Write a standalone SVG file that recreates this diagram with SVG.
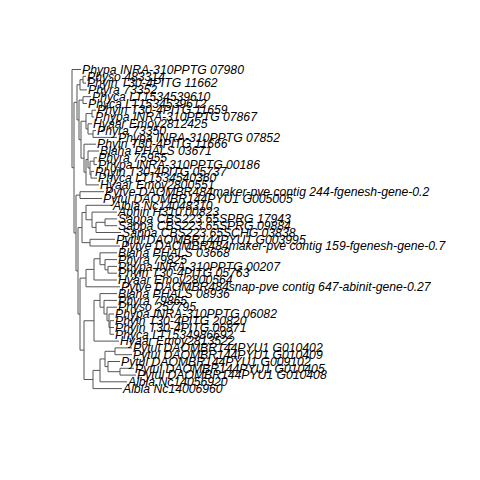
<svg xmlns="http://www.w3.org/2000/svg" width="480" height="480" viewBox="0 0 480 480">
<style>
.e{fill:none;stroke:#555;stroke-width:1}
text{font-family:"Liberation Sans",Arial,sans-serif;font-style:italic;font-size:12.2px;fill:#000}
</style>
<rect width="480" height="480" fill="#fff"/>
<g id="edges" class="e">
<path d="M72 69.5V167.7M72 69.5H81M72 167.7H74"/>
<path d="M74 102.35V233M74 102.35H77M74 233H76"/>
<path d="M77 84.8V119.9M77 84.8H80M77 119.9H79"/>
<path d="M80 79.7V89.9M80 79.7H83M80 89.9H87"/>
<path d="M83 76.3V83.1M83 76.3H86M83 83.1H86"/>
<path d="M79 100.1V139.7M79 100.1H83M79 139.7H81"/>
<path d="M83 96.7V103.5M83 96.7H91M83 103.5H87"/>
<path d="M81 121.25V158.2M81 121.25H86M81 158.2H84"/>
<path d="M86 113.6V128.9M86 113.6H92M86 128.9H88"/>
<path d="M92 110.2V117M92 110.2H96M92 117H94"/>
<path d="M88 123.8V134M88 123.8H92M88 134H93"/>
<path d="M93 130.6V137.4M93 130.6H96M93 137.4H117"/>
<path d="M84 144.2V172.2M84 144.2H96M84 172.2H86"/>
<path d="M86 159.5V184.9M86 159.5H88M86 184.9H99"/>
<path d="M88 151V168M88 151H99M88 168H90"/>
<path d="M90 161.2V174.75M90 161.2H94M90 174.75H91"/>
<path d="M94 157.8V164.6M94 157.8H97M94 164.6H97"/>
<path d="M91 171.4V178.1M91 171.4H94M91 178.1H97"/>
<path d="M76 195.1V270.85M76 195.1H80M76 270.85H78"/>
<path d="M80 191.7V198.5M80 191.7H104M80 198.5H102"/>
<path d="M78 227.6V314.1M78 227.6H82M78 314.1H80"/>
<path d="M82 212.5V242.65M82 212.5H86M82 242.65H90"/>
<path d="M86 205.3V219.75M86 205.3H112M86 219.75H92"/>
<path d="M92 212.1V227.4M92 212.1H117M92 227.4H96"/>
<path d="M96 222.3V232.5M96 222.3H105M96 232.5H121"/>
<path d="M105 218.9V225.7M105 218.9H117M105 225.7H117"/>
<path d="M90 239.3V246M90 239.3H115M90 246H120"/>
<path d="M80 278.1V350.1M80 278.1H86M80 350.1H84"/>
<path d="M86 269.4V286.8M86 269.4H94M86 286.8H120"/>
<path d="M94 258.75V280M94 258.75H100M94 280H117"/>
<path d="M100 252.8V264.7M100 252.8H117M100 264.7H105"/>
<path d="M105 259.6V269.8M105 259.6H117M105 269.8H108"/>
<path d="M108 266.4V273.2M108 266.4H117M108 273.2H117"/>
<path d="M84 320.75V379.5M84 320.75H94M84 379.5H93"/>
<path d="M94 300.4V341.1M94 300.4H100M94 341.1H119"/>
<path d="M100 293.6V307.2M100 293.6H117M100 307.2H104"/>
<path d="M104 300.4V314M104 300.4H117M104 314H107"/>
<path d="M107 307.2V320.75M107 307.2H117M107 320.75H109"/>
<path d="M109 314V327.5M109 314H114M109 327.5H110"/>
<path d="M110 320.7V334.3M110 320.7H114M110 327.5H114M110 334.3H114"/>
<path d="M93 370.4V388.6M93 370.4H100M93 388.6H122"/>
<path d="M100 358.95V381.8M100 358.95H105M100 381.8H127"/>
<path d="M105 351.3V366.6M105 351.3H115M105 366.6H108"/>
<path d="M115 347.9V354.7M115 347.9H132M115 354.7H132"/>
<path d="M108 361.5V371.7M108 361.5H120M108 371.7H120"/>
<path d="M120 368.3V375.1M120 368.3H134M120 375.1H136"/>
</g>
<g id="t1"><text x="82" y="73.7">Phypa INRA-310PPTG 07980</text></g>
<g id="t2"><text x="87" y="80.5">Physo 483314</text></g>
<g id="t3"><text x="87" y="87.3">Phyin T30-4PITG 11662</text></g>
<g id="t4"><text x="88" y="94.1">Phyra 73352</text></g>
<g id="t5"><text x="92" y="100.9">Phyca LT1534539610</text></g>
<g id="t6"><text x="88" y="107.7">Phyca LT1534539612</text></g>
<g id="t7"><text x="97" y="114.4">Phyin T30-4PITG 11659</text></g>
<g id="t8"><text x="95" y="121.2">Phypa INRA-310PPTG 07867</text></g>
<g id="t9"><text x="93" y="128">Hyaar Emoy2812425</text></g>
<g id="t10"><text x="97" y="134.8">Phyra 73350</text></g>
<g id="t11"><text x="118" y="141.6">Phypa INRA-310PPTG 07852</text></g>
<g id="t12"><text x="97" y="148.4">Phyin T30-4PITG 11666</text></g>
<g id="t13"><text x="100" y="155.2">Blaha PHALS 03671</text></g>
<g id="t14"><text x="98" y="162">Phyra 75955</text></g>
<g id="t15"><text x="98" y="168.8">Phypa INRA-310PPTG 00186</text></g>
<g id="t16"><text x="95" y="175.6">Phyin T30-4PITG 05737</text></g>
<g id="t17"><text x="98" y="182.3">Phyca LT1534540360</text></g>
<g id="t18"><text x="100" y="189.1">Hyaar Emoy2800551</text></g>
<g id="t19"><text x="105" y="195.9">Pytve DAOMBR484maker-pve contig 244-fgenesh-gene-0.2</text></g>
<g id="t20"><text x="103" y="202.7">Pytul DAOMBR144PYU1 G005005</text></g>
<g id="t21"><text x="113" y="209.5">Albla Nc14048310</text></g>
<g id="t22"><text x="118" y="216.3">Aphin H310 00823</text></g>
<g id="t23"><text x="118" y="223.1">Sappa CBS223.65SPRG 17943</text></g>
<g id="t24"><text x="118" y="229.9">Sappa CBS223.65SPRG 09884</text></g>
<g id="t25"><text x="122" y="236.7">Sappa CBS223.65SCHG 03838</text></g>
<g id="t26"><text x="116" y="243.5">Pytul DAOMBR144PYU1 G003995</text></g>
<g id="t27"><text x="121" y="250.2">Pytve DAOMBR484maker-pve contig 159-fgenesh-gene-0.7</text></g>
<g id="t28"><text x="118" y="257">Blaha PHALS 03668</text></g>
<g id="t29"><text x="118" y="263.8">Phyra 79825</text></g>
<g id="t30"><text x="118" y="270.6">Phypa INRA-310PPTG 00207</text></g>
<g id="t31"><text x="118" y="277.4">Phyin T30-4PITG 05763</text></g>
<g id="t32"><text x="118" y="284.2">Hyaar Emoy2800564</text></g>
<g id="t33"><text x="121" y="291">Pytve DAOMBR484snap-pve contig 647-abinit-gene-0.27</text></g>
<g id="t34"><text x="118" y="297.8">Blaha PHALS 08936</text></g>
<g id="t35"><text x="118" y="304.6">Phyra 79865</text></g>
<g id="t36"><text x="118" y="311.4">Physo 257795</text></g>
<g id="t37"><text x="115" y="318.2">Phypa INRA-310PPTG 06082</text></g>
<g id="t38"><text x="115" y="324.9">Phyin T30-4PITG 20820</text></g>
<g id="t39"><text x="115" y="331.7">Phyin T30-4PITG 06871</text></g>
<g id="t40"><text x="115" y="338.5">Phyca LT1534986692</text></g>
<g id="t41"><text x="120" y="345.3">Hyaar Emoy2813522</text></g>
<g id="t42"><text x="133" y="352.1">Pytul DAOMBR144PYU1 G010402</text></g>
<g id="t43"><text x="133" y="358.9">Pytul DAOMBR144PYU1 G010409</text></g>
<g id="t44"><text x="121" y="365.7">Pytul DAOMBR144PYU1 G009102</text></g>
<g id="t45"><text x="135" y="372.5">Pytul DAOMBR144PYU1 G010405</text></g>
<g id="t46"><text x="137" y="379.3">Pytul DAOMBR144PYU1 G010408</text></g>
<g id="t47"><text x="128" y="386">Albla Nc14056920</text></g>
<g id="t48"><text x="123" y="392.8">Albla Nc14006960</text></g>
</svg>
